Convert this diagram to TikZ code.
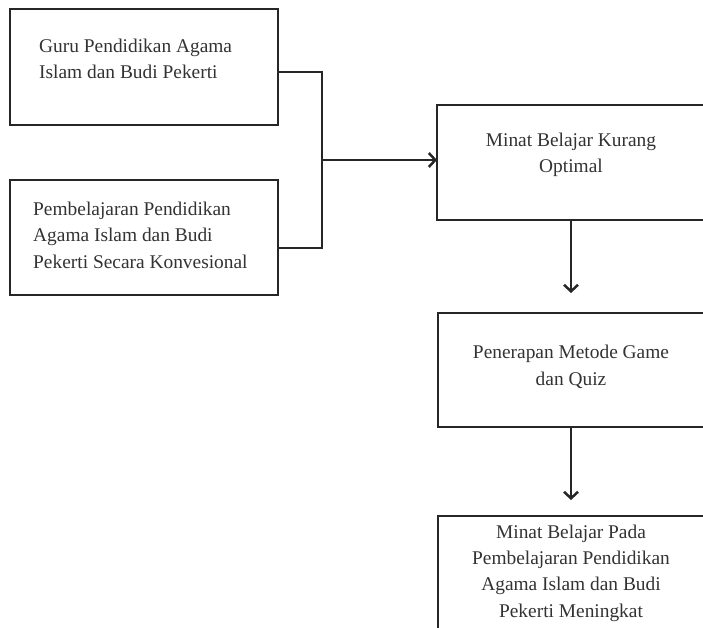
\documentclass[tikz,border=0pt]{standalone}
\usepackage{fontspec}
\setmainfont{Liberation Serif}
\usetikzlibrary{arrows.meta}
\begin{document}
\begin{tikzpicture}[x=1pt,y=-1pt,
  box/.style={draw=black!85,line width=2.5pt,rectangle},
  txt/.style={inner sep=0pt,font=\fontsize{19.4}{26.3}\selectfont,text=black!80},
  conn/.style={draw=black!85,line width=2.5pt},
  arr/.style={conn,-{Straight Barb[length=6.5pt,width=14pt,line width=2.5pt]}}]
\useasboundingbox[fill=white] (0,0) rectangle (703,628);
\clip (0,0) rectangle (703,628);
% boxes
\draw[box] (10,9) rectangle (278,125);
\coordinate (b1e) at (278,72);
\draw[box] (10,180) rectangle (278,295);
\coordinate (b2e) at (278,248);
\draw[box] (437,105) rectangle (712,220);
\coordinate (b3w) at (437,160);
\coordinate (b3s) at (571,220);
\draw[box] (438,313) rectangle (712,427);
\coordinate (b4s) at (571,427);
\draw[box] (438,516) rectangle (712,660);
% texts (anchor base = baseline of last line)
\node[txt,align=left,anchor=base west] (t1) at (39,79) {Guru Pendidikan Agama\\Islam dan Budi Pekerti};
\node[txt,align=left,anchor=base west] (t2) at (33,268) {Pembelajaran Pendidikan\\Agama Islam dan Budi\\Pekerti Secara Konvesional};
\node[txt,align=center,anchor=base] (t3) at (571,173) {Minat Belajar Kurang\\Optimal};
\node[txt,align=center,anchor=base] (t4) at (571,385) {Penerapan Metode Game\\dan Quiz};
\node[txt,align=center,anchor=base] (t5) at (571,617) {Minat Belajar Pada\\Pembelajaran Pendidikan\\Agama Islam dan Budi\\Pekerti Meningkat};
% connectors
\coordinate (j1) at (322,72);
\coordinate (j2) at (322,248);
\coordinate (jm) at (322,160);
\draw[conn] (b1e) -- (j1) -- (j2) -- (b2e);
\draw[arr] (jm) -- (b3w);
\coordinate (a1) at (571,293);
\draw[arr] (b3s) -- (a1);
\coordinate (a2) at (571,500);
\draw[arr] (b4s) -- (a2);
\end{tikzpicture}
\end{document}
